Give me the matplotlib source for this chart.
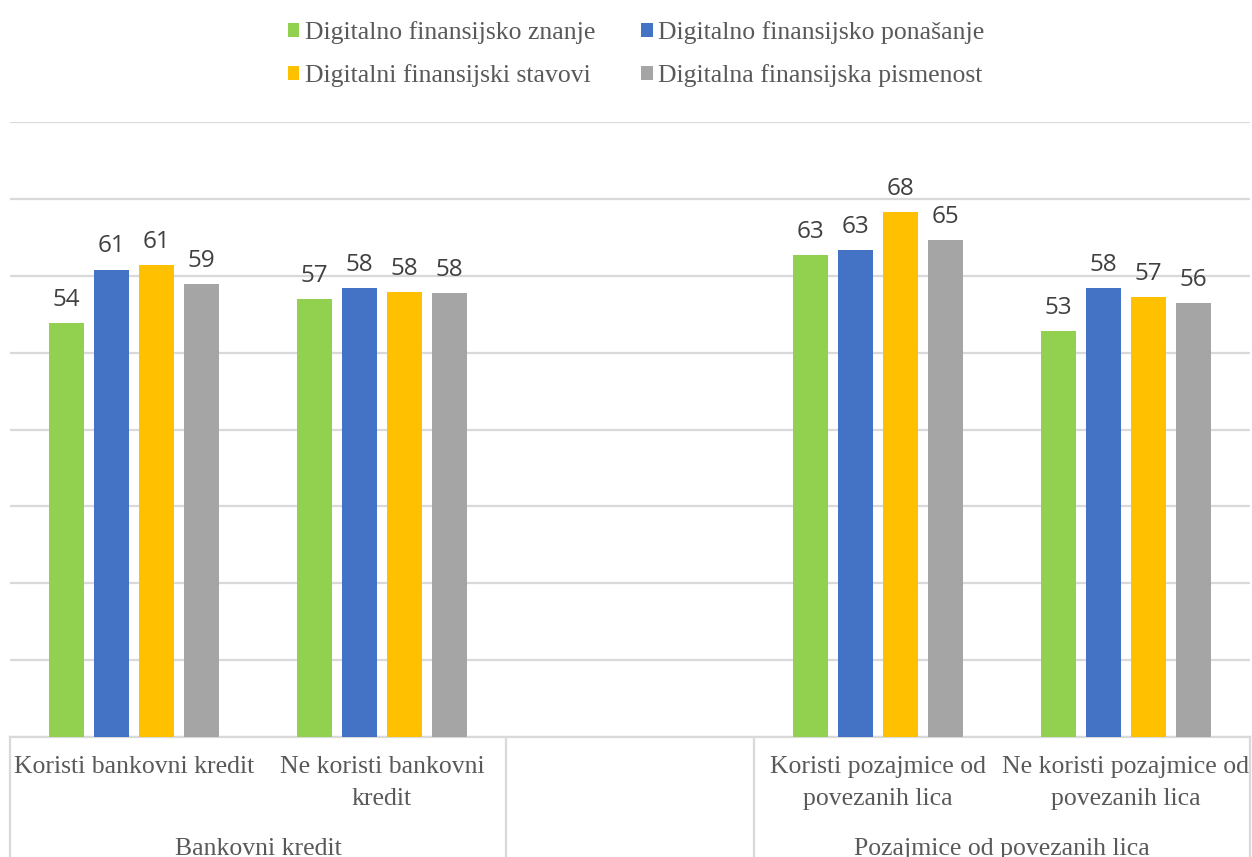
import numpy as np
import matplotlib.pyplot as plt
import matplotlib.transforms as mtransforms
from matplotlib.lines import Line2D

# podaci
categories = ["Koristi bankovni kredit", "Ne koristi bankovni\nkredit", "",
              "Koristi pozajmice od\npovezanih lica", "Ne koristi pozajmice od\npovezanih lica"]
groups = ["Bankovni kredit", "", "Pozajmice od povezanih lica"]
group_span = [(0, 1), (2, 2), (3, 4)]

series = ["Digitalno finansijsko znanje", "Digitalno finansijsko ponašanje",
          "Digitalni finansijski stavovi", "Digitalna finansijska pismenost"]
znanje = [53.8, 57.0, np.nan, 62.7, 52.8]
ponasanje = [60.8, 58.4, np.nan, 63.4, 58.4]
stavovi = [61.4, 57.9, np.nan, 68.3, 57.2]
pismenost = [58.9, 57.8, np.nan, 64.7, 56.4]
values = [znanje, ponasanje, stavovi, pismenost]

colors = ["#92D050", "#4472C4", "#FFC000", "#A5A5A5"]
grid_c = "#D9D9D9"
serif = "Liberation Serif"

W, H = 1252, 857
fig = plt.figure(figsize=(W / 100, H / 100), dpi=100)
ax = fig.add_axes([10 / W, (H - 737) / H, 1240 / W, 615 / H])

x = np.arange(len(categories))
bw = 0.141
step = 0.1815
handles = []
for i, (name, vals, col) in enumerate(zip(series, values, colors)):
    off = (i - 1.5) * step
    bars = ax.bar(x + off, vals, bw, color=col, zorder=3, label=name)
    handles.append(bars)
    for xi, v in zip(x, vals):
        if np.isnan(v):
            continue
        ax.annotate(f"{v:.0f}", (xi + off, v), xytext=(0, 8), textcoords="offset points",
                    ha="center", va="bottom", fontsize=17.5, color="#404040",
                    family="Open Sans")

ax.set_xlim(-0.5, len(categories) - 0.5)
ax.set_ylim(0, 80)
ax.set_yticks(np.arange(0, 81, 10))
ax.yaxis.grid(True, color=grid_c, lw=1.6, zorder=0)
ax.set_xticks([])
ax.tick_params(axis="y", length=0, labelleft=False)
for s in ["top", "right", "left"]:
    ax.spines[s].set_visible(False)
ax.spines["bottom"].set_color(grid_c)
ax.spines["bottom"].set_linewidth(1.6)

# kategorije ispod ose
tr = mtransforms.blended_transform_factory(ax.transData, fig.transFigure)
for xi, lab in zip(x, categories):
    ax.text(xi, 1 - 756 / H, lab, transform=tr, ha="center", va="top",
            fontsize=18.5, family=serif, color="#595959", linespacing=1.6)
for lab, (a, b) in zip(groups, group_span):
    ax.text((a + b) / 2, 1 - 855 / H, lab, transform=tr, ha="center", va="baseline",
            fontsize=18.5, family=serif, color="#595959")
for xb in [-0.5, 1.5, 2.5, 4.5]:
    ax.add_line(Line2D([xb, xb], [0, 1 - 737 / H], transform=tr, color=grid_c,
                       lw=1.6, clip_on=False))

# legenda
order = [0, 2, 1, 3]
fig.legend([handles[i] for i in order], [series[i] for i in order], ncol=2,
           loc="upper center", bbox_to_anchor=(636 / W, 1 - 8 / H), frameon=False,
           prop={"family": serif, "size": 18.5}, labelcolor="#595959",
           handlelength=0.45, handleheight=0.45, handletextpad=0.2,
           columnspacing=1.8, labelspacing=0.8, borderpad=0)

fig.savefig("out.png", dpi=100)
